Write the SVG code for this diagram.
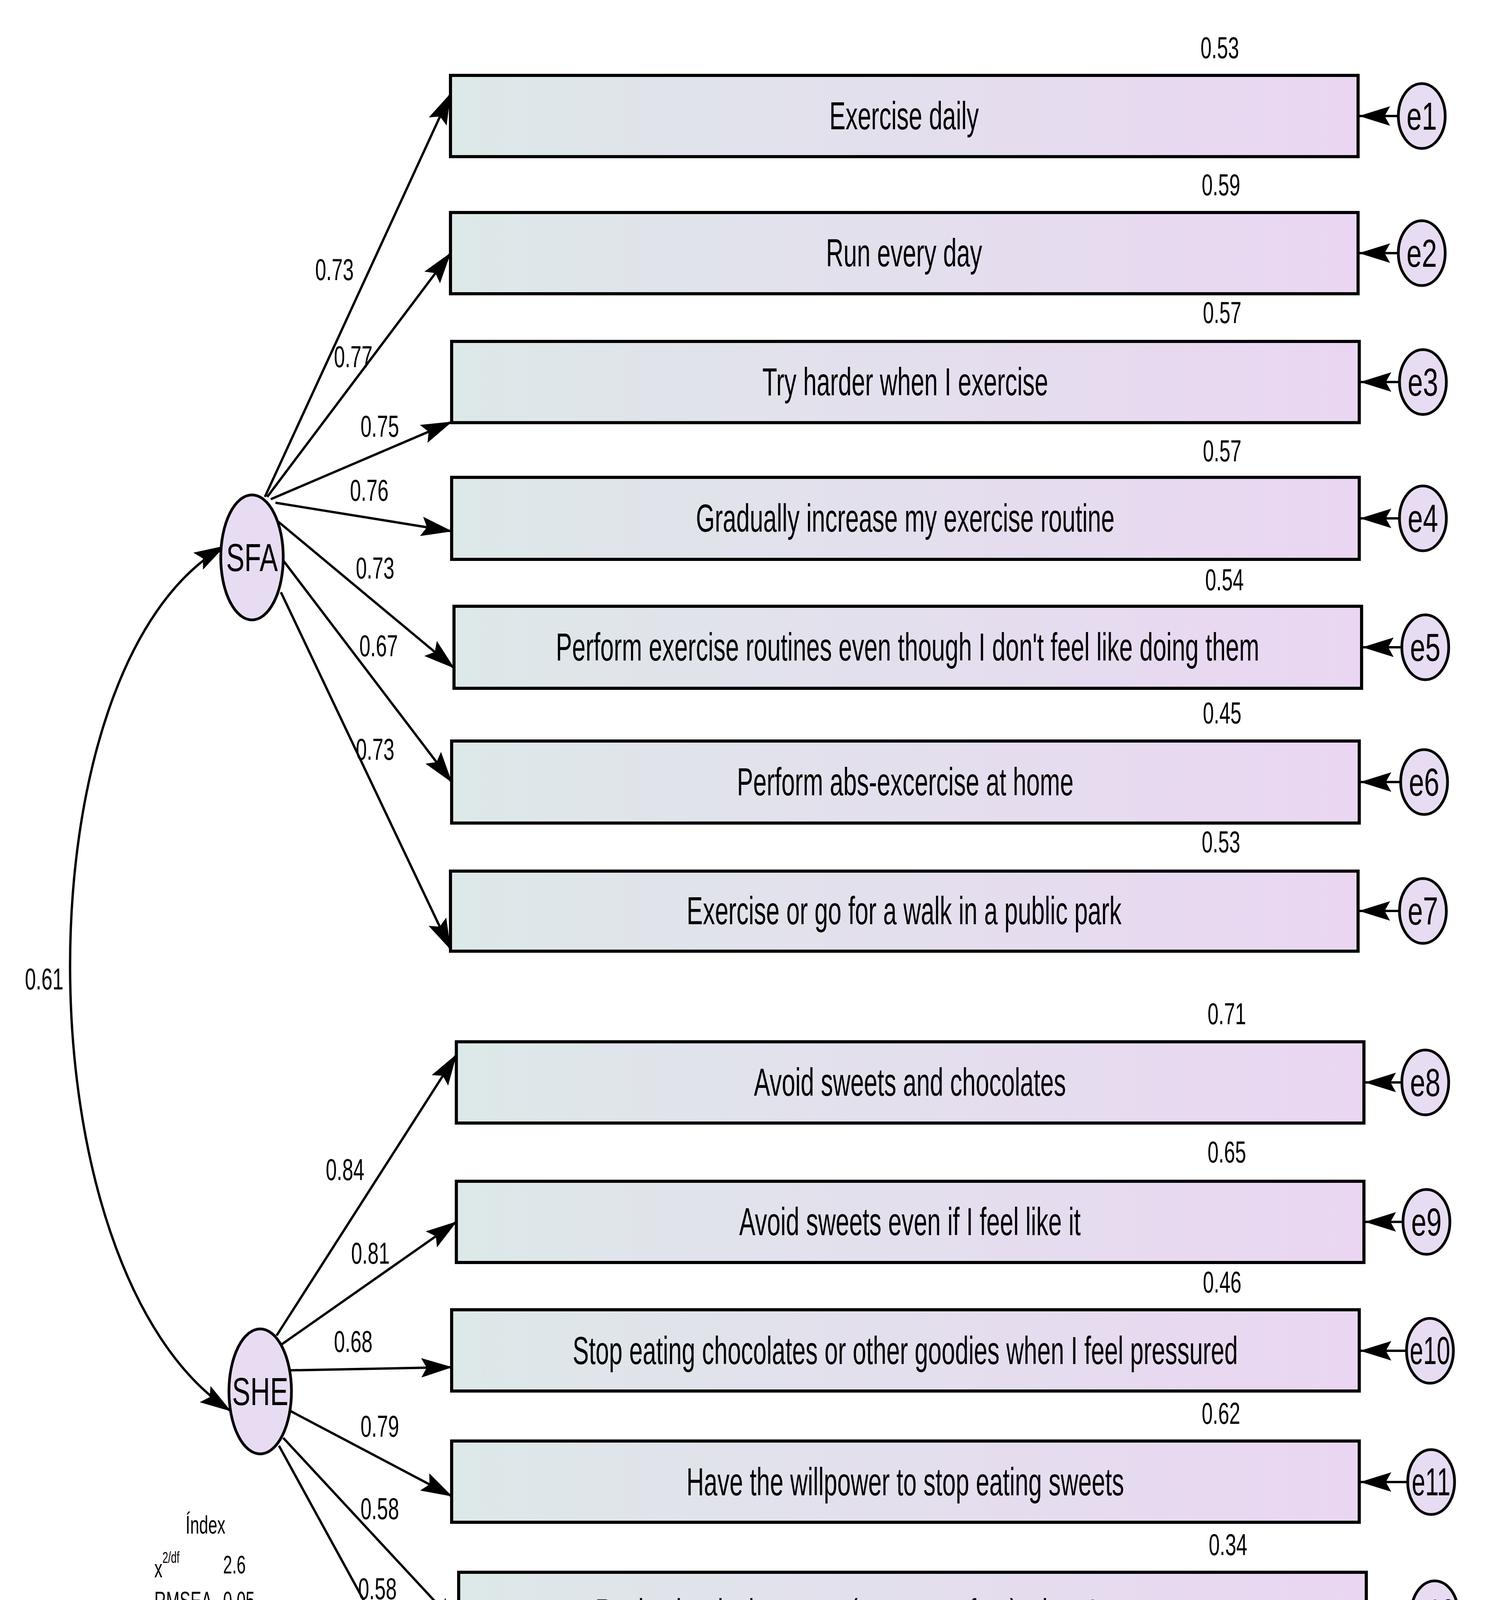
<svg xmlns="http://www.w3.org/2000/svg" width="3806" height="4675" viewBox="0 0 3806 4675">
<style>
text{font-family:"Liberation Sans",Arial,sans-serif;fill:#000}
.bt{font-size:100px;text-anchor:middle;dominant-baseline:central}
.nm{font-size:78px;text-anchor:middle;dominant-baseline:central}
.fi{font-size:64px;dominant-baseline:central}
.box{fill:url(#g);stroke:#000;stroke-width:8}
.el{fill:#e8dcf2;stroke:#000;stroke-width:7}
.ln{stroke:#000;stroke-width:6;fill:none;marker-end:url(#ah)}
</style>
<defs>
<linearGradient id="g" x1="0" x2="1" y1="0" y2="0"><stop offset="0" stop-color="#dde8e8"/><stop offset="1" stop-color="#eAd6f2"/></linearGradient>
<marker id="ah" markerUnits="userSpaceOnUse" markerWidth="80" markerHeight="50" refX="78" refY="25" orient="auto-start-reverse"><path d="M0,0 L80,25 L0,50 L14,25 Z" fill="#000"/></marker>
</defs>
<g id="connectors">
<path class="ln" d="M678,1272 L1153,240"/>
<path class="ln" d="M684,1272 L1153,648"/>
<path class="ln" d="M693,1278 L1156,1080"/>
<path class="ln" d="M705,1287 L1156,1360"/>
<path class="ln" d="M708,1332 L1162,1710"/>
<path class="ln" d="M719,1427 L1156,2002"/>
<path class="ln" d="M719,1516 L1153,2430"/>
<path class="ln" d="M708,3419 L1168,2700"/>
<path class="ln" d="M719,3443 L1168,3128"/>
<path class="ln" d="M743,3508 L1156,3500"/>
<path class="ln" d="M743,3612 L1156,3830"/>
<path class="ln" d="M725,3681 L1174,4165"/>
<path class="ln" d="M714,3701 L1174,4540"/>
<path class="ln" style="marker-start:url(#ah)" d="M575,1398 C45,1700 45,3250 590,3612"/>
<g id="err-arrows">
<path class="ln" d="M3579,297 L3480,297"/><path class="ln" d="M3579,648 L3480,648"/>
<path class="ln" d="M3582,978 L3483,978"/><path class="ln" d="M3582,1327 L3483,1327"/>
<path class="ln" d="M3588,1657 L3489,1657"/><path class="ln" d="M3585,2002 L3483,2002"/>
<path class="ln" d="M3582,2332 L3480,2332"/><path class="ln" d="M3588,2771 L3495,2771"/>
<path class="ln" d="M3591,3128 L3495,3128"/><path class="ln" d="M3600,3458 L3483,3458"/>
<path class="ln" d="M3603,3794 L3483,3794"/><path class="ln" d="M3612,4130 L3501,4130"/>
<path class="ln" d="M3618,4486 L3501,4486"/>
</g>
</g>
<g id="labels">
<text class="nm" transform="translate(856,690) scale(0.65,1)">0.73</text>
<text class="nm" transform="translate(904,913) scale(0.65,1)">0.77</text>
<text class="nm" transform="translate(972,1091) scale(0.65,1)">0.75</text>
<text class="nm" transform="translate(945,1255) scale(0.65,1)">0.76</text>
<text class="nm" transform="translate(960,1454) scale(0.65,1)">0.73</text>
<text class="nm" transform="translate(969,1653) scale(0.65,1)">0.67</text>
<text class="nm" transform="translate(960,1918) scale(0.65,1)">0.73</text>
<text class="nm" transform="translate(883,2994) scale(0.65,1)">0.84</text>
<text class="nm" transform="translate(948,3208) scale(0.65,1)">0.81</text>
<text class="nm" transform="translate(904,3434) scale(0.65,1)">0.68</text>
<text class="nm" transform="translate(972,3651) scale(0.65,1)">0.79</text>
<text class="nm" transform="translate(972,3862) scale(0.65,1)">0.58</text>
<text class="nm" transform="translate(966,4067) scale(0.65,1)">0.58</text>
<text class="nm" transform="translate(113,2506) scale(0.65,1)">0.61</text>
<text class="nm" transform="translate(3122,122) scale(0.65,1)">0.53</text>
<text class="nm" transform="translate(3125,473) scale(0.65,1)">0.59</text>
<text class="nm" transform="translate(3128,800) scale(0.65,1)">0.57</text>
<text class="nm" transform="translate(3128,1154) scale(0.65,1)">0.57</text>
<text class="nm" transform="translate(3134,1484) scale(0.65,1)">0.54</text>
<text class="nm" transform="translate(3128,1825) scale(0.65,1)">0.45</text>
<text class="nm" transform="translate(3125,2155) scale(0.65,1)">0.53</text>
<text class="nm" transform="translate(3140,2595) scale(0.65,1)">0.71</text>
<text class="nm" transform="translate(3140,2949) scale(0.65,1)">0.65</text>
<text class="nm" transform="translate(3128,3282) scale(0.65,1)">0.46</text>
<text class="nm" transform="translate(3125,3618) scale(0.65,1)">0.62</text>
<text class="nm" transform="translate(3143,3954) scale(0.65,1)">0.34</text>
<text class="nm" transform="translate(3146,4308) scale(0.65,1)">0.33</text>
</g>
<g id="SFA"><ellipse class="el" cx="645" cy="1427" rx="80" ry="160"/><text class="bt" transform="translate(645,1427) scale(0.7,1)">SFA</text></g>
<g id="SHE"><ellipse class="el" cx="666" cy="3562" rx="80" ry="160"/><text class="bt" transform="translate(666,3562) scale(0.7,1)">SHE</text></g>
<g id="i1"><rect class="box" x="1153" y="193" width="2323" height="208"/><text class="bt" transform="translate(2314,297) scale(0.62,1)">Exercise daily</text></g>
<g id="i2"><rect class="box" x="1153" y="544" width="2323" height="208"/><text class="bt" transform="translate(2314,648) scale(0.62,1)">Run every day</text></g>
<g id="i3"><rect class="box" x="1156" y="874" width="2323" height="208"/><text class="bt" transform="translate(2317,978) scale(0.62,1)">Try harder when I exercise</text></g>
<g id="i4"><rect class="box" x="1156" y="1222" width="2323" height="210"/><text class="bt" transform="translate(2317,1327) scale(0.62,1)">Gradually increase my exercise routine</text></g>
<g id="i5"><rect class="box" x="1162" y="1552" width="2323" height="210"/><text class="bt" transform="translate(2323,1657) scale(0.62,1)">Perform exercise routines even though I don't feel like doing them</text></g>
<g id="i6"><rect class="box" x="1156" y="1897" width="2323" height="210"/><text class="bt" transform="translate(2317,2002) scale(0.62,1)">Perform abs-excercise at home</text></g>
<g id="i7"><rect class="box" x="1153" y="2230" width="2323" height="205"/><text class="bt" transform="translate(2314,2332) scale(0.62,1)">Exercise or go for a walk in a public park</text></g>
<g id="i8"><rect class="box" x="1168" y="2667" width="2323" height="208"/><text class="bt" transform="translate(2329,2771) scale(0.62,1)">Avoid sweets and chocolates</text></g>
<g id="i9"><rect class="box" x="1168" y="3024" width="2323" height="208"/><text class="bt" transform="translate(2329,3128) scale(0.62,1)">Avoid sweets even if I feel like it</text></g>
<g id="i10"><rect class="box" x="1156" y="3353" width="2323" height="208"/><text class="bt" transform="translate(2317,3458) scale(0.62,1)">Stop eating chocolates or other goodies when I feel pressured</text></g>
<g id="i11"><rect class="box" x="1156" y="3689" width="2323" height="208"/><text class="bt" transform="translate(2317,3794) scale(0.62,1)">Have the willpower to stop eating sweets</text></g>
<g id="i12"><rect class="box" x="1174" y="4025" width="2323" height="208"/><text class="bt" transform="translate(2335,4130) scale(0.62,1)">Resist the desire to eat (every so often) when I am nervous</text></g>
<g id="i13"><rect class="box" x="1174" y="4382" width="2323" height="208"/><text class="bt" transform="translate(2335,4486) scale(0.62,1)">Avoid eating junk foods</text></g>
<g id="errors">
<g id="e1"><ellipse class="el" cx="3639" cy="297" rx="60" ry="83"/><text class="bt" transform="translate(3639,297) scale(0.7,1)">e1</text></g>
<g id="e2"><ellipse class="el" cx="3639" cy="648" rx="60" ry="83"/><text class="bt" transform="translate(3639,648) scale(0.7,1)">e2</text></g>
<g id="e3"><ellipse class="el" cx="3642" cy="978" rx="60" ry="83"/><text class="bt" transform="translate(3642,978) scale(0.7,1)">e3</text></g>
<g id="e4"><ellipse class="el" cx="3642" cy="1327" rx="60" ry="83"/><text class="bt" transform="translate(3642,1327) scale(0.7,1)">e4</text></g>
<g id="e5"><ellipse class="el" cx="3648" cy="1657" rx="60" ry="83"/><text class="bt" transform="translate(3648,1657) scale(0.7,1)">e5</text></g>
<g id="e6"><ellipse class="el" cx="3645" cy="2002" rx="60" ry="83"/><text class="bt" transform="translate(3645,2002) scale(0.7,1)">e6</text></g>
<g id="e7"><ellipse class="el" cx="3642" cy="2332" rx="60" ry="83"/><text class="bt" transform="translate(3642,2332) scale(0.7,1)">e7</text></g>
<g id="e8"><ellipse class="el" cx="3648" cy="2771" rx="60" ry="83"/><text class="bt" transform="translate(3648,2771) scale(0.7,1)">e8</text></g>
<g id="e9"><ellipse class="el" cx="3651" cy="3128" rx="60" ry="83"/><text class="bt" transform="translate(3651,3128) scale(0.7,1)">e9</text></g>
<g id="e10"><ellipse class="el" cx="3660" cy="3458" rx="60" ry="83"/><text class="bt" transform="translate(3660,3458) scale(0.62,1)">e10</text></g>
<g id="e11"><ellipse class="el" cx="3663" cy="3794" rx="60" ry="83"/><text class="bt" transform="translate(3663,3794) scale(0.62,1)">e11</text></g>
<g id="e12"><ellipse class="el" cx="3672" cy="4130" rx="60" ry="83"/><text class="bt" transform="translate(3672,4130) scale(0.62,1)">e12</text></g>
<g id="e13"><ellipse class="el" cx="3678" cy="4486" rx="60" ry="83"/><text class="bt" transform="translate(3678,4486) scale(0.62,1)">e13</text></g>
</g>
<g id="fit-index">
<text class="fi" text-anchor="middle" transform="translate(526,3903) scale(0.65,1)">Índex</text>
<text class="fi" transform="translate(395,4015) scale(0.65,1)">x<tspan font-size="40" dy="-28">2/df</tspan></text>
<text class="fi" transform="translate(571,4005) scale(0.65,1)">2.6</text>
<text class="fi" transform="translate(395,4097) scale(0.65,1)">RMSEA</text><text class="fi" transform="translate(571,4097) scale(0.65,1)">0.05</text>
<text class="fi" transform="translate(395,4192) scale(0.65,1)">GFI</text><text class="fi" transform="translate(571,4192) scale(0.65,1)">0.95</text>
<text class="fi" transform="translate(395,4290) scale(0.65,1)">AGFI</text><text class="fi" transform="translate(571,4290) scale(0.65,1)">0.93</text>
<text class="fi" transform="translate(395,4382) scale(0.65,1)">CFI</text><text class="fi" transform="translate(571,4382) scale(0.65,1)">0.97</text>
<text class="fi" transform="translate(395,4477) scale(0.65,1)">NNFI</text><text class="fi" transform="translate(571,4477) scale(0.65,1)">0.96</text>
<text class="fi" transform="translate(395,4570) scale(0.65,1)">SRMR</text><text class="fi" transform="translate(571,4570) scale(0.65,1)">0.04</text>
</g>
</svg>
